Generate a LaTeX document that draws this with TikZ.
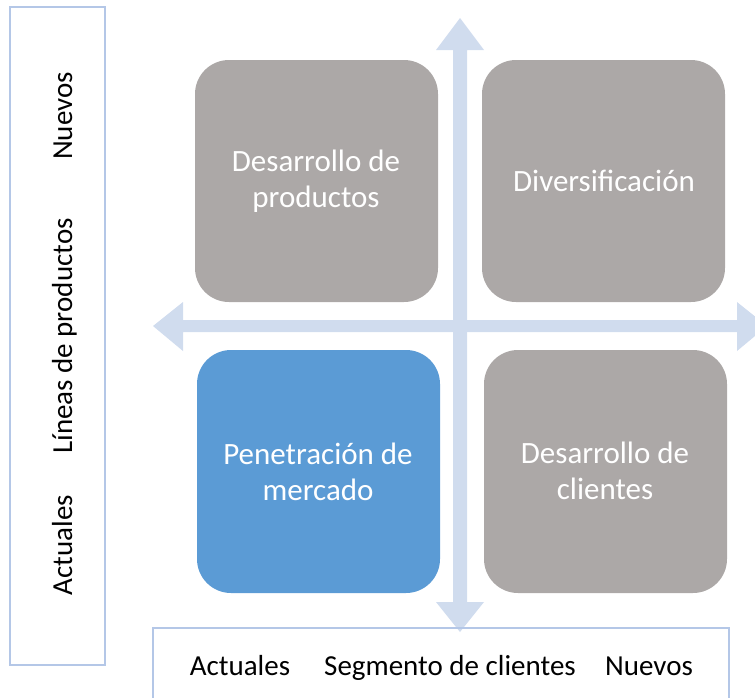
\documentclass[tikz,border=0pt]{standalone}
\usepackage{fontspec}
\setmainfont{Carlito}
\definecolor{boxgray}{RGB}{172,168,167}
\definecolor{boxblue}{RGB}{91,155,213}
\definecolor{arrowblue}{RGB}{208,220,238}
\definecolor{framblue}{RGB}{180,199,231}
\tikzset{
  quad/.style={rounded corners=34pt, inner sep=0pt},
  quadtext/.style={text=white, align=center, font=\fontsize{31}{36}\selectfont},
  lbl/.style={text=black, font=\fontsize{29}{32}\selectfont, inner sep=0pt, anchor=base},
  frame/.style={draw=framblue, line width=2pt},
  bigarrow/.style={fill=arrowblue, draw=none}
}
\begin{document}
\begin{tikzpicture}[x=1pt,y=-1pt]
\useasboundingbox (0,0) rectangle (755,697);
\clip (0,0) rectangle (755,697);
% quadrant boxes
\fill[boxgray, quad] (195,60) rectangle (438,302);
\fill[boxgray, quad] (482,60) rectangle (725,302);
\fill[boxblue, quad] (197,350) rectangle (440,593);
\fill[boxgray, quad] (484,350) rectangle (727,593);
\node[quadtext] (tl) at (316,181) {Desarrollo de\\productos};
\node[quadtext] (tr) at (604,181) {Diversificación};
\node[quadtext] (bl) at (318,472) {Penetración de\\mercado};
\node[quadtext] (br) at (605,471) {Desarrollo de\\clientes};
% vertical double arrow
\coordinate (vt) at (460,18);
\coordinate (vb) at (460,632);
\fill[bigarrow] (vt) -- (484,50) -- (467,50) -- (467,602) -- (484,602) -- (vb)
  -- (436,602) -- (453,602) -- (453,50) -- (436,50) -- cycle;
% horizontal double arrow
\coordinate (hl) at (153,326);
\coordinate (hr) at (767,326);
\fill[bigarrow] (hl) -- (183,302) -- (183,320) -- (737,320) -- (737,302) -- (hr)
  -- (737,351) -- (737,332) -- (183,332) -- (183,351) -- cycle;
% left frame
\draw[frame] (10,7) rectangle (105,665);
\node[lbl, rotate=90] (ln) at (72,116) {Nuevos};
\node[lbl, rotate=90] (lm) at (72,336) {Líneas de productos};
\node[lbl, rotate=90] (la) at (72,545) {Actuales};
% bottom frame
\draw[frame] (153,710) -- (153,628) -- (729,628) -- (729,710);
\node[lbl] (ba) at (240,675) {Actuales};
\node[lbl] (bm) at (450,675) {Segmento de clientes};
\node[lbl] (bn) at (649,675) {Nuevos};
\end{tikzpicture}
\end{document}
